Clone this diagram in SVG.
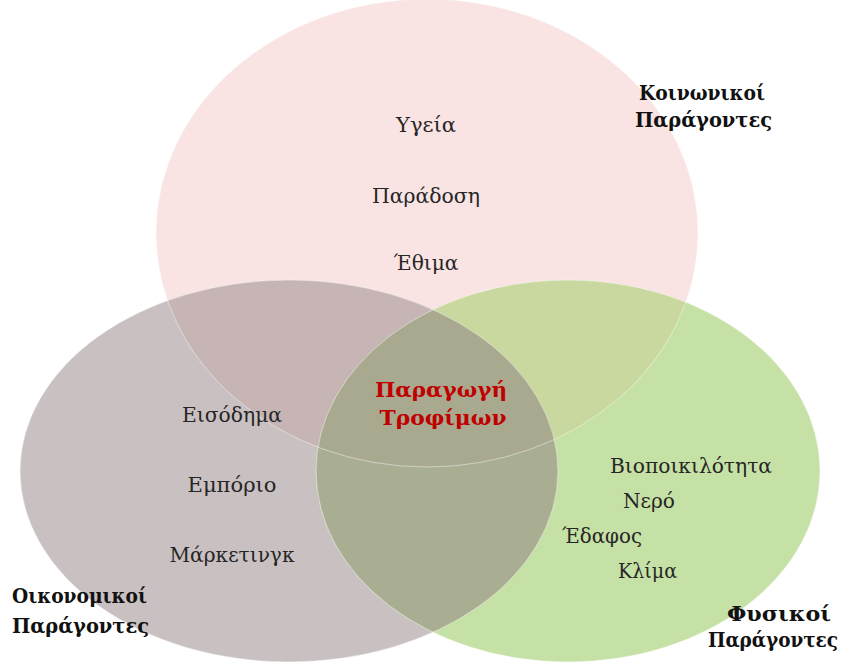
<svg xmlns="http://www.w3.org/2000/svg" width="851" height="664" viewBox="0 0 851 664">
<style>
.item{font-family:"DejaVu Serif","Liberation Serif",serif;font-size:21px;fill:#262626;text-anchor:middle}
.itemL{font-family:"DejaVu Serif","Liberation Serif",serif;font-size:21px;fill:#262626}
.lab{font-family:"DejaVu Serif","Liberation Serif",serif;font-size:20px;font-weight:bold;fill:#111}
.core{font-family:"DejaVu Serif","Liberation Serif",serif;font-size:21px;font-weight:bold;fill:#c00000;text-anchor:middle}
</style>
<defs>
<clipPath id="cPink"><ellipse cx="427" cy="233" rx="271" ry="234"/></clipPath>
<clipPath id="cGray"><ellipse cx="289" cy="471" rx="269" ry="191"/></clipPath>
<clipPath id="cGreen"><ellipse cx="568" cy="471" rx="252" ry="191"/></clipPath>
</defs>
<rect width="851" height="664" fill="#ffffff"/>
<g id="social">
<ellipse cx="427" cy="233" rx="271" ry="234" fill="#f9e3e3"/>
</g>
<g id="economic">
<ellipse cx="289" cy="471" rx="269" ry="191" fill="#c9c1c1"/>
<g clip-path="url(#cPink)"><ellipse cx="289" cy="471" rx="269" ry="191" fill="#c7b4b4"/></g>
</g>
<g id="physical">
<ellipse cx="568" cy="471" rx="252" ry="191" fill="#c6e1a5"/>
<g clip-path="url(#cPink)"><ellipse cx="568" cy="471" rx="252" ry="191" fill="#c9d89f"/></g>
<g clip-path="url(#cGray)"><ellipse cx="568" cy="471" rx="252" ry="191" fill="#a9ae93"/></g>
</g>
<g id="core">
<g clip-path="url(#cPink)"><g clip-path="url(#cGray)"><ellipse cx="568" cy="471" rx="252" ry="191" fill="#a8a98e"/></g></g>
<text class="core" x="441" y="397" textLength="132" lengthAdjust="spacingAndGlyphs">Παραγωγή</text>
<text class="core" x="443" y="425" textLength="127" lengthAdjust="spacingAndGlyphs">Τροφίμων</text>
</g>
<g id="outlines" fill="none" stroke="#ffffff" stroke-opacity="0.45" stroke-width="1">
<ellipse cx="427" cy="233" rx="271" ry="234"/>
<ellipse cx="289" cy="471" rx="269" ry="191"/>
<ellipse cx="568" cy="471" rx="252" ry="191"/>
</g>
<g id="social-text">
<text class="item" x="426" y="132" textLength="60" lengthAdjust="spacingAndGlyphs">Υγεία</text>
<text class="item" x="426" y="203" textLength="108" lengthAdjust="spacingAndGlyphs">Παράδοση</text>
<text class="item" x="426" y="270" textLength="65" lengthAdjust="spacingAndGlyphs">Έθιμα</text>
<text class="lab" x="639" y="100" textLength="126" lengthAdjust="spacingAndGlyphs">Κοινωνικοί</text>
<text class="lab" x="635" y="127" textLength="137" lengthAdjust="spacingAndGlyphs">Παράγοντες</text>
</g>
<g id="economic-text">
<text class="item" x="232" y="422" textLength="100" lengthAdjust="spacingAndGlyphs">Εισόδημα</text>
<text class="item" x="232" y="492" textLength="89" lengthAdjust="spacingAndGlyphs">Εμπόριο</text>
<text class="item" x="232" y="562" textLength="125" lengthAdjust="spacingAndGlyphs">Μάρκετινγκ</text>
<text class="lab" x="12" y="603" textLength="135" lengthAdjust="spacingAndGlyphs">Οικονομικοί</text>
<text class="lab" x="12" y="633" textLength="137" lengthAdjust="spacingAndGlyphs">Παράγοντες</text>
</g>
<g id="physical-text">
<text class="itemL" x="610" y="473" textLength="162" lengthAdjust="spacingAndGlyphs">Βιοποικιλότητα</text>
<text class="itemL" x="623" y="508" textLength="52" lengthAdjust="spacingAndGlyphs">Νερό</text>
<text class="itemL" x="562" y="543" textLength="80" lengthAdjust="spacingAndGlyphs">Έδαφος</text>
<text class="itemL" x="618" y="578" textLength="59" lengthAdjust="spacingAndGlyphs">Κλίμα</text>
<text class="lab" x="727" y="621" textLength="104" lengthAdjust="spacingAndGlyphs">Φυσικοί</text>
<text class="lab" x="708" y="647" font-size="19" textLength="130" lengthAdjust="spacingAndGlyphs">Παράγοντες</text>
</g>
</svg>
